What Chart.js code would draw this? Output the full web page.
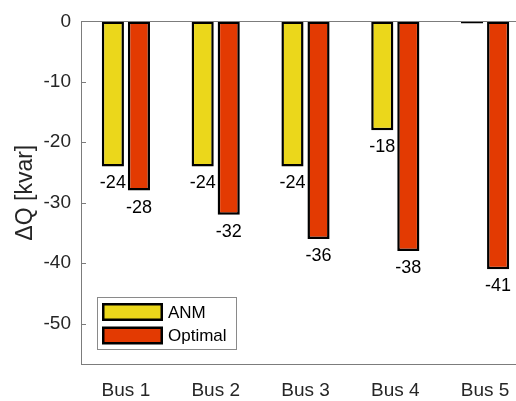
<!DOCTYPE html>
<html>
<head>
<meta charset="utf-8">
<script src="https://cdn.jsdelivr.net/npm/chart.js@4/dist/chart.umd.min.js"></script>
<style>
  html, body { margin: 0; padding: 0; background: #fff; overflow: hidden; width: 516px; height: 401px; }
  #wrap { width: 530px; height: 401px; }
</style>
</head>
<body>
<div id="wrap"><canvas id="c" width="530" height="401"></canvas></div>
<script>
// Reactive power change per bus, kvar
const buses = ['Bus 1', 'Bus 2', 'Bus 3', 'Bus 4', 'Bus 5'];
const anm = [-24, -24, -24, -18, 0];
const optimal = [-28, -32, -36, -38, -41];
const yTicks = [0, -10, -20, -30, -40, -50];
const seriesNames = ['ANM', 'Optimal'];

const FONT = '"Liberation Sans", Arial, Helvetica, sans-serif';
const YELLOW = '#ebd71b';
const RED = '#e33a02';
const AXIS = '#7c7c7c';
const TEXT = '#262626';

// Axes box, inward ticks, value labels and the in-plot legend
const decorations = {
  id: 'decorations',
  afterDatasetsDraw(chart) {
    const ctx = chart.ctx;
    const a = chart.chartArea;
    const y = chart.scales.y;
    ctx.save();
    // top edge of the axes box
    ctx.strokeStyle = AXIS;
    ctx.lineWidth = 1;
    ctx.beginPath();
    ctx.moveTo(a.left, Math.round(a.top) + 0.5);
    ctx.lineTo(a.right, Math.round(a.top) + 0.5);
    ctx.stroke();
    // inward tick marks on the y axis
    yTicks.forEach(v => {
      const py = Math.round(y.getPixelForValue(v)) + 0.5;
      ctx.beginPath();
      ctx.moveTo(a.left, py);
      ctx.lineTo(a.left + 5, py);
      ctx.stroke();
    });
    // value labels under each bar end
    ctx.fillStyle = '#000';
    ctx.font = '18px ' + FONT;
    ctx.textAlign = 'center';
    ctx.textBaseline = 'middle';
    chart.data.datasets.forEach((ds, i) => {
      const meta = chart.getDatasetMeta(i);
      meta.data.forEach((bar, j) => {
        const v = ds.data[j];
        if (v === 0) return;
        ctx.fillText(String(v), bar.x, y.getPixelForValue(v) + 17);
      });
    });
    // legend box
    const lx = a.left + 16, ly = a.bottom - 67, lw = 139, lh = 52;
    ctx.fillStyle = '#fff';
    ctx.fillRect(lx, ly, lw, lh);
    ctx.strokeStyle = '#8a8a8a';
    ctx.strokeRect(lx + 0.5, ly + 0.5, lw, lh);
    ctx.font = '17px ' + FONT;
    ctx.textAlign = 'left';
    chart.data.datasets.forEach((ds, i) => {
      const sy = ly + 6 + i * 23.5;
      ctx.fillStyle = '#000';
      ctx.fillRect(lx + 5, sy, 61, 18);
      ctx.fillStyle = ds.backgroundColor;
      ctx.fillRect(lx + 7.5, sy + 2.5, 56, 13);
      ctx.fillStyle = '#000';
      ctx.fillText(ds.label, lx + 71, sy + 10);
    });
    ctx.restore();
  }
};

new Chart(document.getElementById('c'), {
  type: 'bar',
  data: {
    labels: buses,
    datasets: [
      { label: seriesNames[0], data: anm, backgroundColor: YELLOW, borderColor: '#000',
        borderWidth: 2.5, borderSkipped: false, minBarLength: 2 },
      { label: seriesNames[1], data: optimal, backgroundColor: RED, borderColor: '#000',
        borderWidth: 2.5, borderSkipped: false }
    ]
  },
  options: {
    responsive: false,
    animation: false,
    layout: { padding: { top: 18, left: 0, right: 0, bottom: 0 } },
    datasets: { bar: { categoryPercentage: 0.58, barPercentage: 0.85 } },
    plugins: { legend: { display: false }, tooltip: { enabled: false } },
    scales: {
      x: {
        grid: { display: false, drawTicks: false },
        border: { display: true, color: AXIS, width: 1 },
        ticks: { color: TEXT, font: { family: FONT, size: 19 }, padding: 15, maxRotation: 0 },
        afterFit(s) { s.height = 37; }
      },
      y: {
        min: -56.7,
        max: 0,
        grid: { display: false, drawTicks: false },
        border: { display: true, color: AXIS, width: 1 },
        afterBuildTicks(s) { s.ticks = yTicks.map(v => ({ value: v })); },
        ticks: { color: TEXT, font: { family: FONT, size: 19 }, padding: 10 },
        title: { display: true, text: 'ΔQ [kvar]', color: TEXT,
                 font: { family: FONT, size: 23 }, padding: { top: 12, bottom: 0 } },
        afterFit(s) { s.width = 81; }
      }
    }
  },
  plugins: [decorations]
});
</script>
</body>
</html>
